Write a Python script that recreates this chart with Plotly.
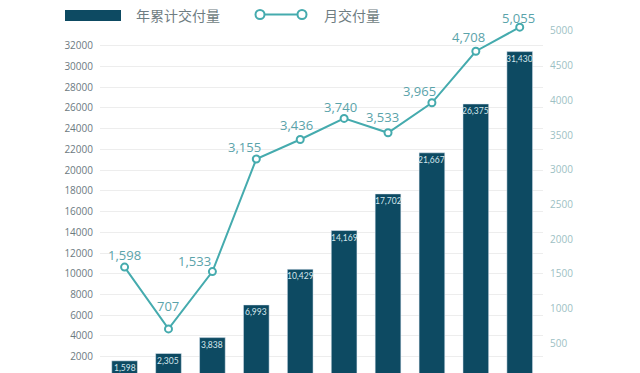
import plotly.graph_objects as go

# Monthly deliveries and year-to-date cumulative deliveries
months = list(range(10))
cumulative = [1598, 2305, 3838, 6993, 10429, 14169, 17702, 21667, 26375, 31430]
monthly = [1598, 707, 1533, 3155, 3436, 3740, 3533, 3965, 4708, 5055]

left_ticks = list(range(2000, 32001, 2000))
right_ticks = list(range(500, 5001, 500))

# pixel nudges for the monthly value labels (right, up)
label_dx = [0, 0, -18, -12, -4, -4, -6, -12, -7, -1]
label_dy = [12, 23, 11, 12, 15, 11, 16, 12, 14, 9]

BAR = "#0d4a62"
LINE = "#45abae"
LINE_TXT = "#5aa3aa"

W, H = 640, 373
ML, MR, MT, MB = 100, 97, 20, 0

fig = go.Figure()

fig.add_trace(go.Bar(
    x=months, y=cumulative, marker_color=BAR, width=0.585,
    showlegend=False, yaxis="y", hoverinfo="x+y",
))

fig.add_trace(go.Scatter(
    x=months, y=monthly, mode="lines+markers",
    line=dict(color=LINE, width=2),
    marker=dict(symbol="circle", size=7, color="white",
                line=dict(color=LINE, width=2)),
    cliponaxis=False, showlegend=False, yaxis="y2",
))

# Legend drawn by hand: a wide bar swatch and a line with two open circles
def px_x(p):
    return (p - ML) / (W - ML - MR)

def px_y(p):
    return (H - MB - p) / (H - MT - MB)

shapes = [
    dict(type="rect", xref="paper", yref="paper",
         x0=px_x(65), x1=px_x(121), y0=px_y(21), y1=px_y(10),
         fillcolor=BAR, line=dict(width=0)),
    dict(type="line", xref="paper", yref="paper",
         x0=px_x(264), x1=px_x(298), y0=px_y(14.5), y1=px_y(14.5),
         line=dict(color=LINE, width=2)),
]
for cx in (260, 302):
    shapes.append(dict(type="circle", xref="paper", yref="paper",
                       x0=px_x(cx - 4.5), x1=px_x(cx + 4.5),
                       y0=px_y(19), y1=px_y(10),
                       fillcolor="white", line=dict(color=LINE, width=2)))

annotations = [
    dict(text="年累计交付量", xref="paper", yref="paper",
         x=px_x(134), y=px_y(15), xanchor="left", yanchor="middle",
         showarrow=False,
         font=dict(size=14, color="#6f7d82", family="Noto Sans CJK SC")),
    dict(text="月交付量", xref="paper", yref="paper",
         x=px_x(322), y=px_y(15), xanchor="left", yanchor="middle",
         showarrow=False,
         font=dict(size=14, color="#6f7d82", family="Noto Sans CJK SC")),
]

# cumulative value labels just inside the top of each bar
for m, v in zip(months, cumulative):
    annotations.append(dict(
        x=m, y=v, xref="x", yref="y", text=f"{v:,}", showarrow=False,
        xanchor="center", yanchor="middle", yshift=-7,
        font=dict(size=8.5, color="#d4e6ec", family="Lato"),
    ))

# value labels for the monthly line, anchored on each data point
for m, v, dx, dy in zip(months, monthly, label_dx, label_dy):
    annotations.append(dict(
        x=m, y=v, xref="x", yref="y2", text=f"{v:,}", showarrow=False,
        xanchor="center", yanchor="middle", xshift=dx, yshift=dy,
        font=dict(size=13, color=LINE_TXT, family="Open Sans"),
    ))

fig.update_layout(
    width=W, height=H,
    margin=dict(l=ML, r=MR, t=MT, b=MB),
    paper_bgcolor="white", plot_bgcolor="white",
    bargap=0.4,
    shapes=shapes, annotations=annotations,
    xaxis=dict(range=[-0.56, 9.53], showticklabels=False, showgrid=False,
               zeroline=False, showline=False, ticks=""),
    yaxis=dict(range=[424, 34478], tickvals=left_ticks,
               ticktext=[str(v) for v in left_ticks],
               showgrid=True, gridcolor="#ededed", gridwidth=1,
               zeroline=False, showline=False, ticks="",
               ticklabelstandoff=6,
               tickfont=dict(size=10, color="#6c7a7f", family="Open Sans")),
    yaxis2=dict(range=[72, 5158], overlaying="y", side="right",
                tickvals=right_ticks, ticktext=[str(v) for v in right_ticks],
                showgrid=False, zeroline=False, showline=False, ticks="",
                ticklabelstandoff=6,
                tickfont=dict(size=10, color="#9dbfc4", family="Open Sans")),
)

fig.write_html("out.html")
